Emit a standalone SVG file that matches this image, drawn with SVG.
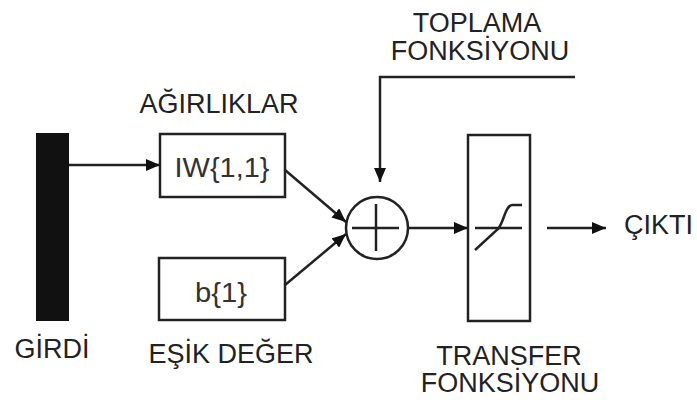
<svg xmlns="http://www.w3.org/2000/svg" width="697" height="400" viewBox="0 0 697 400">
<style>
.lbl{font-family:"Liberation Sans",Arial,sans-serif;font-size:27px;fill:#222;text-anchor:middle}
.box{fill:#fff;stroke:#222;stroke-width:2.5}
.ln{fill:none;stroke:#222;stroke-width:2.5}
.bt{font-family:"Liberation Sans",Arial,sans-serif;font-size:28px;fill:#333;text-anchor:middle}
</style>
<defs>
<marker id="ah" markerWidth="14" markerHeight="12" refX="14" refY="6" orient="auto" markerUnits="userSpaceOnUse">
<path d="M0,0 L14,6 L0,12 Z" fill="#111"/>
</marker>
</defs>
<rect width="697" height="400" fill="#fff"/>
<g id="girdi">
<rect x="36" y="133" width="33" height="188" fill="#111"/>
<text class="lbl" x="52" y="358">GİRDİ</text>
</g>
<g id="agirliklar">
<rect class="box" x="160" y="134" width="125" height="63"/>
<text class="bt" x="222" y="177" textLength="95" lengthAdjust="spacingAndGlyphs">IW{1,1}</text>
<text class="lbl" x="219" y="113">AĞIRLIKLAR</text>
</g>
<g id="esik">
<rect class="box" x="159" y="258" width="126" height="62"/>
<text class="bt" x="221" y="302" textLength="52" lengthAdjust="spacingAndGlyphs">b{1}</text>
<text class="lbl" x="231" y="363">EŞİK DEĞER</text>
</g>
<g id="toplama">
<circle class="ln" cx="377" cy="228" r="31"/>
<line class="ln" x1="352" y1="228" x2="399" y2="228"/>
<line class="ln" x1="376" y1="204" x2="376" y2="251"/>
<text class="lbl" x="477" y="32">TOPLAMA</text>
<text class="lbl" x="480" y="60">FONKSİYONU</text>
</g>
<g id="transfer">
<rect class="box" x="468" y="135" width="62" height="186"/>
<line class="ln" x1="475" y1="228" x2="522" y2="228"/>
<path class="ln" d="M475,250 L498,229 C504,222 505,206 512,205 L522,205"/>
<text class="lbl" x="509" y="365">TRANSFER</text>
<text class="lbl" x="510" y="392">FONKSİYONU</text>
</g>
<g id="cikti">
<text class="lbl" x="624" y="234" style="text-anchor:start">ÇIKTI</text>
</g>
<g id="connectors">
<line class="ln" x1="69" y1="165" x2="160" y2="165" marker-end="url(#ah)"/>
<line class="ln" x1="285" y1="170" x2="346" y2="222" marker-end="url(#ah)"/>
<line class="ln" x1="285" y1="285" x2="346" y2="234" marker-end="url(#ah)"/>
<polyline class="ln" points="575,77 380,77 380,182" marker-end="url(#ah)"/>
<line class="ln" x1="408" y1="228" x2="468" y2="228" marker-end="url(#ah)"/>
<line class="ln" x1="547" y1="228" x2="606" y2="228" marker-end="url(#ah)"/>
</g>
</svg>
